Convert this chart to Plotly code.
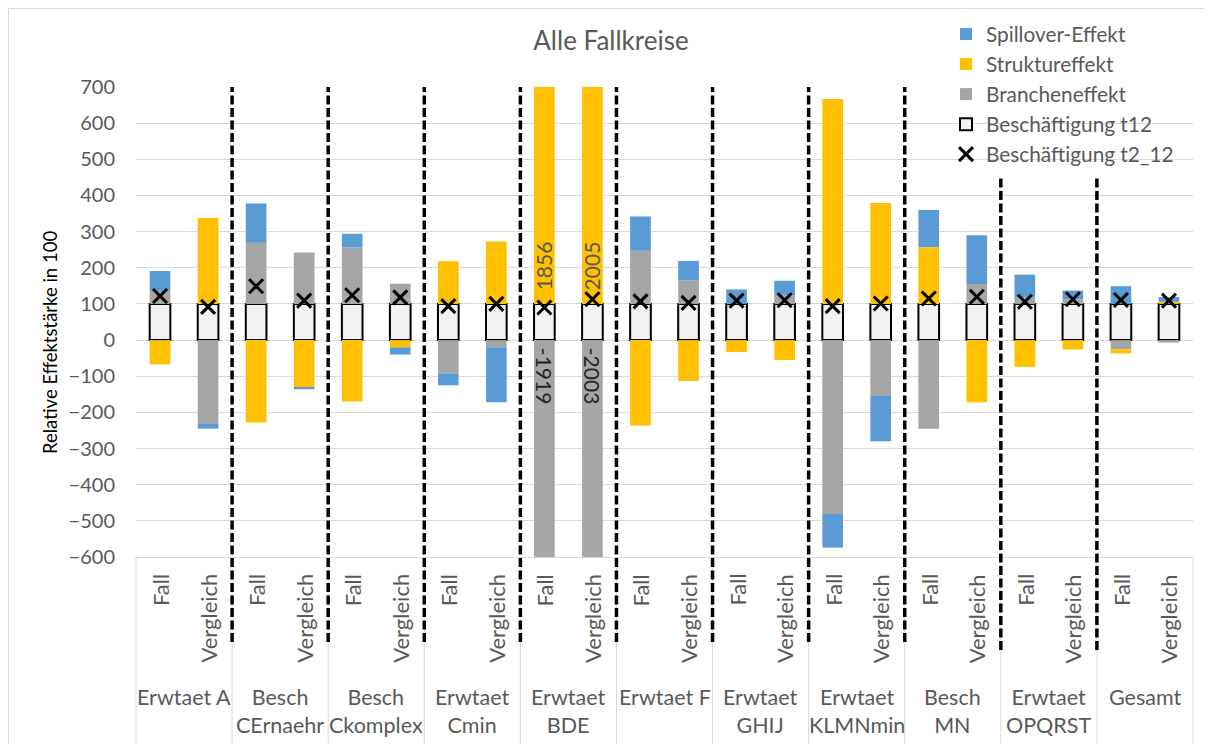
import plotly.graph_objects as go

# ---------------- data ----------------
groups = ["Erwtaet A", "Besch\nCErnaehr", "Besch\nCkomplex", "Erwtaet\nCmin", "Erwtaet\nBDE",
          "Erwtaet F", "Erwtaet\nGHIJ", "Erwtaet\nKLMNmin", "Besch\nMN", "Erwtaet\nOPQRST", "Gesamt"]
subs = ["Fall", "Vergleich"]

beschaeftigung_t12 = [100] * 22
brancheneffekt = [36, -232, 169, 142, 156, 56, -92, -20, -1919, -2003, 147, 65,
                  0, 23, -481, -155, -245, 55, 17, 13, -26, -7]
struktureffekt = [-67, 238, -228, -132, -170, -20, 118, 173, 1856, 2005, -236, -113,
                  -33, -55, 567, 279, 157, -172, -74, -26, -11, 6]
spillover = [55, -13, 109, -4, 38, -20, -33, -152, 53, 11, 95, 54,
             40, 41, -93, -125, 103, 135, 64, 24, 49, 13]
beschaeftigung_t2_12 = [122, 92, 149, 109, 124, 118, 94, 100, 90, 113, 107, 103,
                        109, 110, 94, 101, 115, 120, 106, 113, 111, 109]
y_ticks = list(range(-600, 701, 100))

# -------------- layout constants --------------
O = 8                      # page body margin of the html page
W, H = 1212 - O, 744 - O
L, R, T, B = 136 - O, 19, 87 - O, 187
PW, PH = W - L - R, H - T - B
FONT = "Lato"
GRAY_TXT = "#595959"

n = len(groups) * len(subs)
x = list(range(n))
ticktext = [s for g in groups for s in subs]

def px_x(p):          # screen pixel -> paper x
    return (p - O - L) / PW

def px_y(p):          # screen pixel -> paper y
    return (H - B - (p - O)) / PH

fig = go.Figure()
bw = 0.43
fig.add_trace(go.Bar(x=x, y=beschaeftigung_t12, name="Beschäftigung t12", width=bw,
                     marker=dict(color="#F2F2F2", line=dict(color="black", width=2)),
                     legendrank=4, legendgroup="d"))
fig.add_trace(go.Bar(x=x, y=brancheneffekt, name="Brancheneffekt", width=bw,
                     marker=dict(color="#A5A5A5", line=dict(width=0)),
                     legendrank=3, legendgroup="c"))
fig.add_trace(go.Bar(x=x, y=struktureffekt, name="Struktureffekt", width=bw,
                     marker=dict(color="#FFC000", line=dict(width=0)),
                     legendrank=2, legendgroup="b"))
fig.add_trace(go.Bar(x=x, y=spillover, name="Spillover-Effekt", width=bw,
                     marker=dict(color="#5B9BD5", line=dict(width=0)),
                     legendrank=1, legendgroup="a"))
fig.add_trace(go.Scatter(x=x, y=beschaeftigung_t2_12, name="Beschäftigung t2_12", mode="markers",
                         marker=dict(symbol="x-thin", size=14, color="black",
                                     line=dict(color="black", width=3)),
                         legendrank=5, legendgroup="e"))

shapes = []
# chart border
shapes.append(dict(type="rect", xref="paper", yref="paper", x0=px_x(8.5), x1=px_x(1230),
                   y0=px_y(760), y1=px_y(8.5), line=dict(color="#D9D9D9", width=1), layer="below"))
# separators in category label area
ng = len(groups)
for k in range(ng + 1):
    xp = 2 * k / n
    shapes.append(dict(type="line", xref="paper", yref="paper", x0=xp, x1=xp,
                       y0=0, y1=px_y(744), line=dict(color="#D9D9D9", width=1), layer="below"))
# dashed group dividers
for k in range(1, ng):
    xp = 2 * k / n
    top = px_y(177) if k >= ng - 2 else 1.0
    bot = px_y(650) if k >= ng - 2 else px_y(642)
    shapes.append(dict(type="line", xref="paper", yref="paper", x0=xp, x1=xp,
                       y0=bot, y1=top, line=dict(color="black", width=3.5, dash="9px,3.5px"),
                       layer="above"))

annotations = []
# category (Fall / Vergleich) labels, rotated, top-aligned under the axis
for i, t in zip(x, ticktext):
    annotations.append(dict(x=i, xref="x", y=px_y(572), yref="paper", text=t,
                            textangle=-90, showarrow=False, xanchor="center", yanchor="top",
                            font=dict(family=FONT, size=22, color=GRAY_TXT)))
# group labels
for g, name in enumerate(groups):
    annotations.append(dict(x=2 * g + 0.5, xref="x", y=px_y(682), yref="paper",
                            text=name.replace("\n", "<br>"), showarrow=False,
                            xanchor="center", yanchor="top", align="center",
                            font=dict(family=FONT, size=21.5, color=GRAY_TXT)))
# data labels for clipped BDE bars
for i in (8, 9):
    annotations.append(dict(x=i, y=205, xref="x", yref="y", text=str(struktureffekt[i]),
                            textangle=-90, showarrow=False, xanchor="center", yanchor="middle",
                            font=dict(family=FONT, size=21, color="#595959")))
    annotations.append(dict(x=i, y=-100, xref="x", yref="y", text=str(brancheneffekt[i]),
                            textangle=90, showarrow=False, xanchor="center", yanchor="middle",
                            font=dict(family=FONT, size=21, color="#262626")))
# y-axis title
annotations.append(dict(x=px_x(50), y=px_y(343), xref="paper", yref="paper",
                        xanchor="center", yanchor="middle",
                        text="Relative Effektstärke in 100", textangle=-90, showarrow=False,
                        font=dict(family=FONT, size=18.5, color="black")))

fig.update_layout(
    width=W, height=H,
    margin=dict(l=L, r=R, t=T, b=B, autoexpand=False),
    paper_bgcolor="white", plot_bgcolor="white",
    barmode="relative",
    title=dict(text="Alle Fallkreise", x=(611 - O) / W, y=1 - (41 - O) / H,
               xref="container", yref="container", xanchor="center", yanchor="middle",
               font=dict(family=FONT, size=26, color=GRAY_TXT)),
    font=dict(family=FONT, color=GRAY_TXT),
    xaxis=dict(range=[-0.5, n - 0.5], tickmode="array", tickvals=x, showticklabels=False,
               showgrid=False, zeroline=False, showline=True,
               linecolor="#D9D9D9", linewidth=1, ticks=""),
    yaxis=dict(range=[-600, 700], tickmode="array", tickvals=y_ticks,
               showgrid=True, gridcolor="#D9D9D9", gridwidth=1, zeroline=False,
               showline=False, ticks="", ticklabelstandoff=20,
               tickfont=dict(family=FONT, size=20, color=GRAY_TXT)),
    legend=dict(x=px_x(946), y=px_y(14), xanchor="left", yanchor="top",
                bgcolor="rgba(0,0,0,0)", traceorder="grouped", tracegroupgap=0,
                itemwidth=30, font=dict(family=FONT, size=20.8, color=GRAY_TXT)),
    shapes=shapes, annotations=annotations,
)

fig.write_html("out.html")
